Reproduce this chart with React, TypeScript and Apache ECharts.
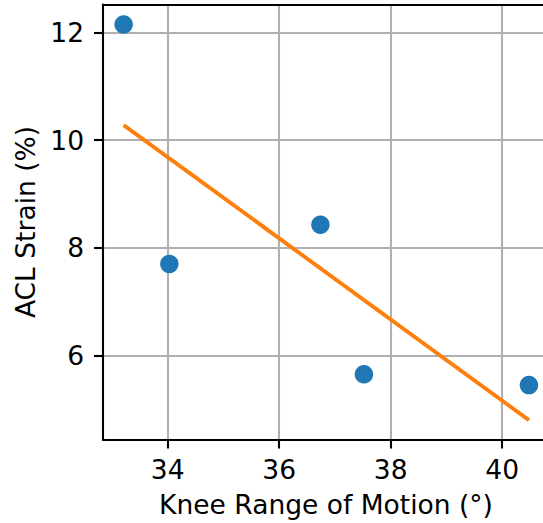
import React, { useEffect, useRef } from "react";
import * as echarts from "echarts";

// Knee range of motion (degrees) vs ACL strain (%) per subject
const kneeRom = [33.21, 34.03, 36.74, 37.52, 40.48];
const aclStrain = [12.15, 7.7, 8.43, 5.65, 5.45];

// Least-squares fit line endpoints
const fitRom = [33.21, 40.48];
const fitStrain = [10.28, 4.8];

const xTicks = [34, 36, 38, 40];
const yTicks = [6, 8, 10, 12];

const X_MIN = 32.84;
const X_MAX = 40.84;
const Y_MIN = 4.44;
const Y_MAX = 12.52;

const FONT = "DejaVu Sans";
const FONT_SIZE = 26.5;
const INK = "#000000";
const GRID = "#b0b0b0";

export default function App() {
  const ref = useRef<HTMLDivElement>(null);

  useEffect(() => {
    if (!ref.current) return;
    const chart = echarts.init(ref.current, null, { renderer: "svg" });

    // Spine-only axes that close the frame on top and right
    const frameAxis = {
      min: 0,
      max: 1,
      axisLine: { show: true, onZero: false, lineStyle: { color: INK, width: 2.1 } },
      axisTick: { show: false },
      axisLabel: { show: false },
      splitLine: { show: false },
      z: 5,
    };

    chart.setOption({
      animation: false,
      backgroundColor: "#ffffff",
      grid: { left: 103, right: 0, top: 4.5, bottom: 83.5, containLabel: false },
      xAxis: [
        {
          type: "value",
          position: "bottom",
          min: X_MIN,
          max: X_MAX,
          splitNumber: 4,
          name: "Knee Range of Motion (°)",
          nameLocation: "middle",
          nameGap: 51,
          nameTextStyle: { fontFamily: FONT, fontSize: FONT_SIZE, color: INK },
          axisLine: { show: true, onZero: false, lineStyle: { color: INK, width: 2.1 } },
          axisTick: {
            show: true,
            length: 9,
            customValues: xTicks,
            lineStyle: { color: INK, width: 2.1 },
          },
          axisLabel: {
            customValues: xTicks,
            margin: 16.5,
            fontFamily: FONT,
            fontSize: FONT_SIZE,
            color: INK,
          },
          splitLine: {
            show: true,
            lineStyle: { color: GRID, width: 2.1 },
          },
          z: 1,
        },
        { ...frameAxis, type: "value", position: "top" },
      ],
      yAxis: [
        {
          type: "value",
          position: "left",
          min: Y_MIN,
          max: Y_MAX,
          splitNumber: 4,
          name: "ACL Strain (%)",
          nameLocation: "middle",
          nameGap: 63,
          nameRotate: 90,
          nameTextStyle: { fontFamily: FONT, fontSize: FONT_SIZE, color: INK },
          axisLine: { show: true, onZero: false, lineStyle: { color: INK, width: 2.1 } },
          axisTick: {
            show: true,
            length: 9,
            customValues: yTicks,
            lineStyle: { color: INK, width: 2.1 },
          },
          axisLabel: {
            customValues: yTicks,
            margin: 19,
            fontFamily: FONT,
            fontSize: FONT_SIZE,
            color: INK,
          },
          splitLine: {
            show: true,
            lineStyle: { color: GRID, width: 2.1 },
          },
          z: 1,
        },
        { ...frameAxis, type: "value", position: "right" },
      ],
      series: [
        {
          type: "scatter",
          xAxisIndex: 0,
          yAxisIndex: 0,
          data: kneeRom.map((x, i) => [x, aclStrain[i]]),
          symbol: "circle",
          symbolSize: 18.5,
          itemStyle: { color: "#1f77b4", opacity: 1 },
          z: 2,
        },
        {
          type: "line",
          xAxisIndex: 0,
          yAxisIndex: 0,
          data: fitRom.map((x, i) => [x, fitStrain[i]]),
          showSymbol: false,
          symbol: "none",
          lineStyle: { color: "#ff7f0e", width: 3.9 },
          z: 3,
        },
      ],
    });

    return () => chart.dispose();
  }, []);

  // The plot frame runs a few pixels past the right edge, so the chart is
  // slightly wider than the visible area and clipped by its wrapper.
  return (
    <div
      style={{
        position: "fixed",
        left: 0,
        top: 0,
        width: 543,
        height: 523,
        overflow: "hidden",
      }}
    >
      <div ref={ref} style={{ width: 549, height: 523 }} />
    </div>
  );
}
